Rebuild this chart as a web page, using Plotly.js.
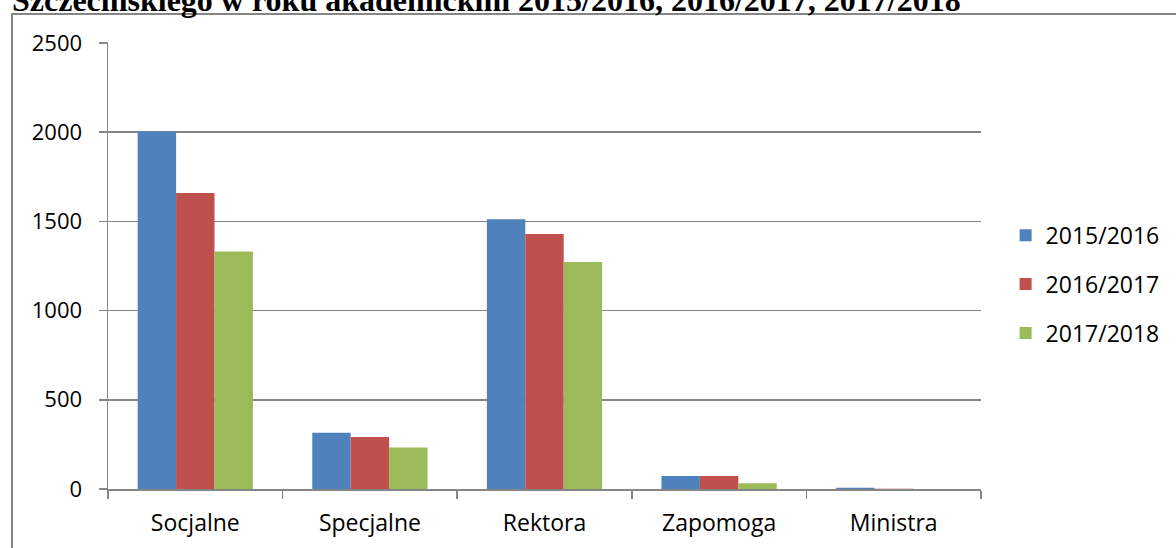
<!DOCTYPE html>
<html>
<head>
<meta charset="utf-8">
<script src="https://cdn.plot.ly/plotly-3.0.1.min.js"></script>
<style>
html,body{margin:0;padding:0;background:#fff;overflow:hidden;}
#wrap{position:relative;width:1176px;height:548px;}
#frame{position:absolute;left:11px;top:13px;width:1300px;height:700px;border-top:2px solid #868686;border-left:2px solid #868686;box-sizing:border-box;z-index:0;}
#chart{position:absolute;left:0;top:0;width:1176px;height:548px;z-index:1;}
</style>
</head>
<body>
<div id="wrap"><div id="frame"></div><div id="chart"></div></div>
<script>
const categories = ["Socjalne", "Specjalne", "Rektora", "Zapomoga", "Ministra"];
const seriesNames = ["2015/2016", "2016/2017", "2017/2018"];
const values2015 = [2005, 315, 1512, 73, 7];
const values2016 = [1659, 291, 1429, 73, 2];
const values2017 = [1331, 233, 1272, 32, 0];
const colors = ["#4F81BD", "#C0504D", "#9BBB59"];
const titleText = "Szczecińskiego w roku akademickim 2015/2016, 2016/2017, 2017/2018";
const yTicks = [0, 500, 1000, 1500, 2000, 2500];

const allValues = [values2015, values2016, values2017];
const traces = allValues.map((vals, i) => ({
  type: "bar",
  name: seriesNames[i],
  x: categories,
  y: vals,
  marker: {color: colors[i], line: {width: 0}},
  legendgroup: "g" + i,
  hoverinfo: "none"
}));

const font = "'Open Sans', 'Liberation Sans', sans-serif";
const gray = "#868686";
const layout = {
  width: 1176,
  height: 548,
  margin: {l: 108, r: 194, t: 42.1, b: 58.5, pad: 0},
  paper_bgcolor: "rgba(0,0,0,0)",
  plot_bgcolor: "rgba(0,0,0,0)",
  barmode: "group",
  bargap: 0.34,
  bargroupgap: 0,
  showlegend: true,
  font: {family: font, size: 22, color: "#000000"},
  xaxis: {
    type: "category",
    showline: true,
    linecolor: gray,
    linewidth: 1.5,
    ticks: "outside",
    tickson: "boundaries",
    ticklen: 8,
    tickwidth: 1.5,
    tickcolor: gray,
    ticklabelstandoff: 13,
    tickfont: {family: font, size: 23, color: "#000"},
    showgrid: false,
    zeroline: false,
    fixedrange: true
  },
  yaxis: {
    range: [0, 2505],
    tickvals: yTicks,
    ticktext: yTicks.map(String),
    showline: true,
    linecolor: gray,
    linewidth: 1.5,
    ticks: "outside",
    ticklen: 8,
    tickwidth: 1.5,
    tickcolor: gray,
    ticklabelstandoff: 12,
    tickfont: {family: font, size: 22, color: "#000"},
    showgrid: true,
    gridcolor: gray,
    gridwidth: 1.5,
    zeroline: false,
    fixedrange: true
  },
  legend: {
    x: 1.027,
    xanchor: "left",
    y: 0.458,
    yanchor: "middle",
    traceorder: "grouped",
    tracegroupgap: 16,
    font: {family: font, size: 23, color: "#000"},
    bgcolor: "rgba(0,0,0,0)",
    borderwidth: 0,
    itemclick: false,
    itemdoubleclick: false
  },
  annotations: [{
    text: "<b>" + titleText + "</b>",
    xref: "paper", yref: "paper",
    x: -0.1121, xanchor: "left",
    y: 1, yanchor: "bottom",
    yshift: 22,
    showarrow: false,
    bgcolor: "rgba(0,0,0,0)",
    font: {family: "'Liberation Serif', 'Times New Roman', serif", size: 32, color: "#000"}
  }]
};

Plotly.newPlot("chart", traces, layout, {displayModeBar: false, staticPlot: true});
</script>
</body>
</html>
